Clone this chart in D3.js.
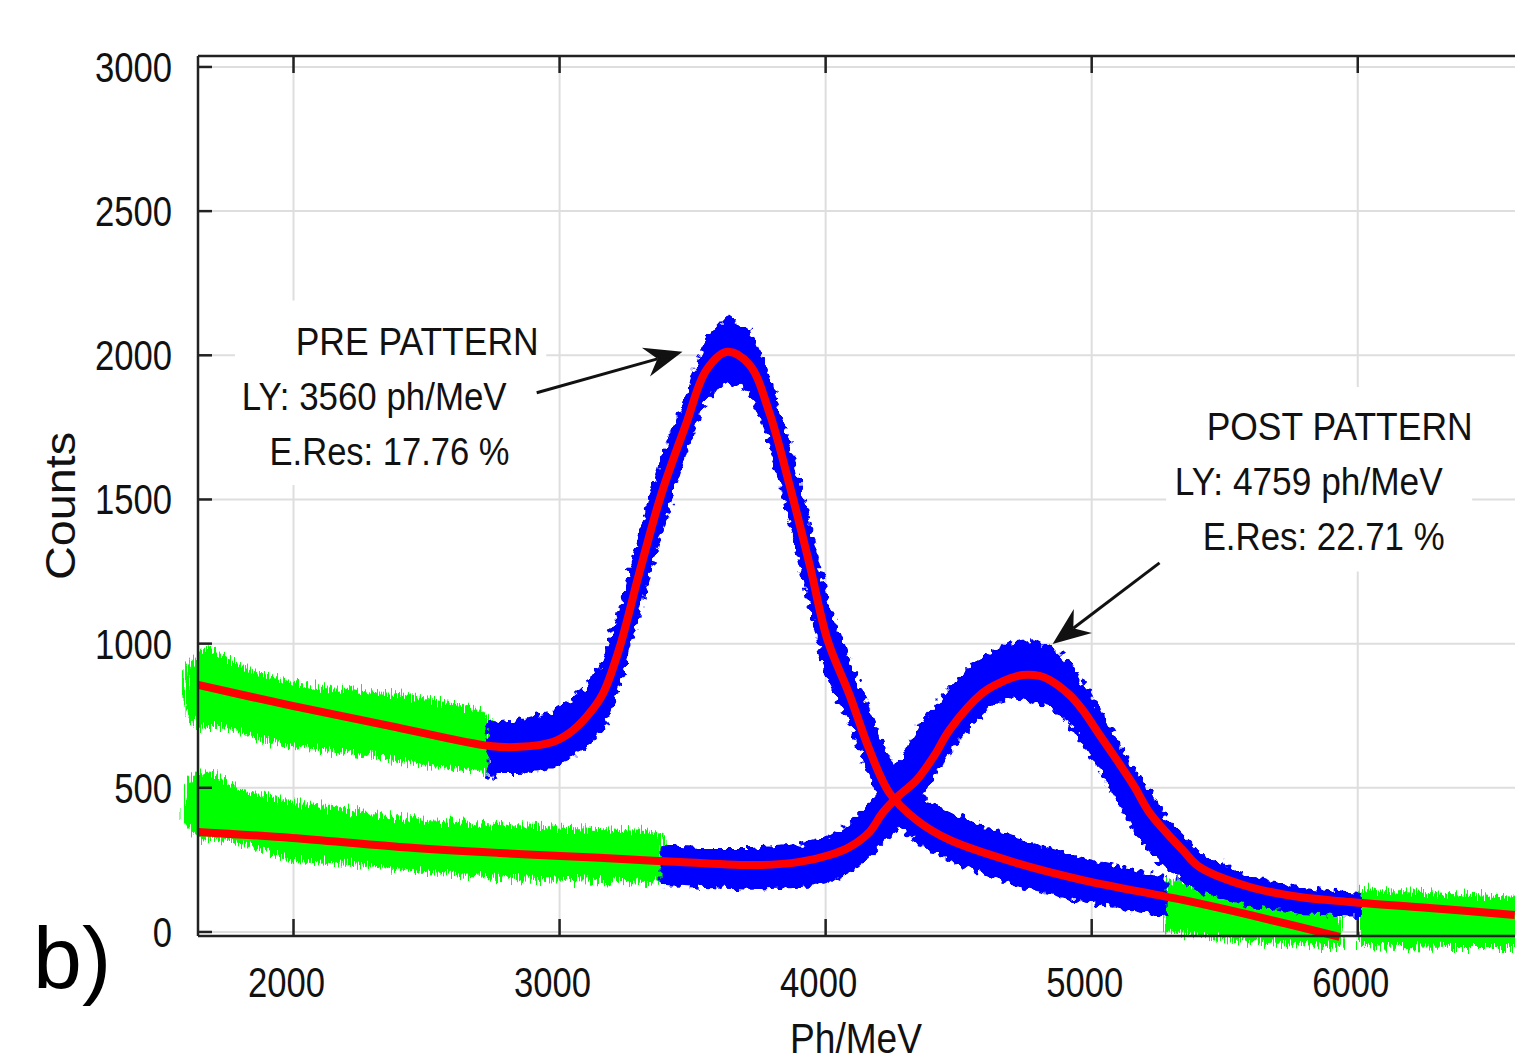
<!DOCTYPE html>
<html>
<head>
<meta charset="utf-8">
<script src="https://cdn.jsdelivr.net/npm/d3@7"></script>
<style>
  body { margin: 0; background: #fff; }
  text { font-family: "Liberation Sans", Arial, sans-serif; fill: #111; }
</style>
</head>
<body>
<div id="chart"></div>
<script>
// ---- values (Ph/MeV, counts) ----
var xTicks = [2000, 3000, 4000, 5000, 6000];
var yTicks = [0, 500, 1000, 1500, 2000, 2500, 3000];

// PRE pattern spectrum: green = outside fit range, blue = fitted range (low / high edge of the cloud)
var preGreenLX  = [1594, 1639, 1703, 1759, 1872, 1996, 2135, 2323, 2511, 2699, 2737];
var preGreenLHi = [902, 961, 978, 943, 891, 864, 839, 829, 805, 770, 728];
var preGreenLLo = [770, 711, 715, 708, 673, 649, 631, 607, 579, 562, 545];

var preBlueX  = [2737, 2774, 2850, 2974, 3037, 3101, 3162, 3225, 3301, 3383, 3477, 3552, 3631, 3714, 3789, 3864, 3940, 4007, 4090, 4165, 4240, 4342, 4466, 4718, 4966, 5274];
var preBlueHi = [728, 721, 728, 760, 794, 846, 930, 1100, 1370, 1630, 1850, 2050, 2130, 2080, 1910, 1680, 1400, 1130, 930, 752, 596, 475, 406, 319, 250, 187];
var preBlueLo = [534, 555, 555, 572, 607, 649, 710, 870, 1130, 1400, 1680, 1860, 1915, 1880, 1710, 1440, 1150, 890, 740, 545, 406, 319, 250, 163, 111, 59];

var preGreenRX  = [5274, 5406, 5594, 5782, 5932];
var preGreenRHi = [180, 163, 135, 111, 94];
var preGreenRLo = [7, -10, -28, -38, -49];

// POST pattern spectrum
var postGreenLX  = [1598, 1639, 1703, 1797, 1996, 2211, 2447, 2823, 3150, 3327, 3387];
var postGreenLHi = [510, 555, 545, 493, 447, 423, 388, 364, 354, 347, 336];
var postGreenLLo = [378, 330, 326, 312, 250, 239, 215, 191, 180, 173, 180];

var postBlueX  = [3387, 3526, 3714, 3902, 4015, 4090, 4165, 4240, 4316, 4391, 4466, 4541, 4616, 4691, 4767, 4842, 4917, 4992, 5067, 5143, 5218, 5293, 5406, 5594, 5782, 6008];
var postBlueHi = [291, 284, 284, 298, 326, 371, 441, 527, 649, 753, 839, 916, 961, 995, 1006, 985, 926, 822, 701, 579, 475, 371, 267, 187, 146, 128];
var postBlueLo = [166, 160, 153, 160, 180, 215, 267, 336, 423, 527, 631, 718, 787, 822, 805, 787, 735, 631, 510, 388, 284, 215, 146, 94, 69, 59];

var postGreenRX  = [6008, 6158, 6346, 6620];
var postGreenRHi = [146, 135, 128, 118];
var postGreenRLo = [-45, -49, -52, -52];

// fitted curves (red)
var preFitX = [1641, 1996, 2361, 2737, 2850, 2974, 3037, 3101, 3162, 3225, 3301, 3383, 3477, 3552, 3631, 3714, 3789, 3864, 3940, 4007, 4090, 4165, 4240, 4342, 4466, 4718, 4966, 5342, 5594, 5932];
var preFitY = [857, 784, 715, 645, 642, 659, 690, 746, 825, 985, 1250, 1520, 1766, 1949, 2012, 1967, 1800, 1551, 1273, 1013, 822, 631, 482, 388, 319, 239, 180, 111, 59, -17];

var postFitX = [1641, 1996, 2398, 2774, 3150, 3451, 3752, 3902, 4015, 4090, 4165, 4214, 4278, 4342, 4410, 4466, 4590, 4654, 4740, 4804, 4842, 4917, 4966, 5030, 5094, 5161, 5218, 5342, 5406, 5594, 5782, 5970, 6270, 6590];
var postFitY = [347, 326, 295, 274, 257, 243, 232, 243, 267, 295, 347, 413, 475, 527, 614, 701, 829, 864, 891, 888, 874, 822, 770, 683, 597, 503, 413, 284, 225, 156, 121, 104, 83, 59];

// annotations
var preLines  = ["PRE PATTERN", "LY: 3560 ph/MeV", "E.Res: 17.76 %"];
var postLines = ["POST PATTERN", "LY: 4759 ph/MeV", "E.Res: 22.71 %"];

// ---- layout ----
var w = 1515, h = 1064;
var plotL = 198, plotT = 56, plotB = 936, plotR = 1544;

var svg = d3.select("#chart").append("svg")
    .attr("width", w)
    .attr("height", h);

svg.append("rect").attr("width", w).attr("height", h).attr("fill", "#fff");

// rough edges for the histogram clouds (visual texture only)
var defs = svg.append("defs");
var fg = defs.append("filter").attr("id", "spiky")
    .attr("x", "-5%").attr("y", "-40%").attr("width", "110%").attr("height", "180%");
fg.append("feTurbulence").attr("type", "fractalNoise")
  .attr("baseFrequency", "0.7 0.03").attr("numOctaves", 1).attr("seed", 3).attr("result", "n");
fg.append("feDisplacementMap").attr("in", "SourceGraphic").attr("in2", "n")
  .attr("scale", 26).attr("xChannelSelector", "G").attr("yChannelSelector", "R");
var fb = defs.append("filter").attr("id", "dotty")
    .attr("x", "-5%").attr("y", "-20%").attr("width", "110%").attr("height", "140%");
fb.append("feTurbulence").attr("type", "fractalNoise")
  .attr("baseFrequency", "0.18").attr("numOctaves", 1).attr("seed", 7).attr("result", "n");
fb.append("feDisplacementMap").attr("in", "SourceGraphic").attr("in2", "n")
  .attr("scale", 14).attr("xChannelSelector", "G").attr("yChannelSelector", "R");

var x = d3.scaleLinear().domain([1641, 6700]).range([plotL, plotR]);
var y = d3.scaleLinear().domain([-14, 3038]).range([plotB, plotT]);

// grid
svg.append("g").selectAll("line").data(xTicks).enter().append("line")
    .attr("x1", function(d) { return x(d); })
    .attr("x2", function(d) { return x(d); })
    .attr("y1", plotT).attr("y2", plotB)
    .attr("stroke", "#dedede").attr("stroke-width", 2);
svg.append("g").selectAll("line").data(yTicks).enter().append("line")
    .attr("x1", plotL).attr("x2", plotR)
    .attr("y1", function(d) { return y(d); })
    .attr("y2", function(d) { return y(d); })
    .attr("stroke", "#dedede").attr("stroke-width", 2);

// annotation boxes hide the grid behind the text
function box(x0, y0, x1, y1) {
  svg.append("rect")
     .attr("x", x(x0)).attr("y", y(y0))
     .attr("width", x(x1) - x(x0)).attr("height", y(y1) - y(y0))
     .attr("fill", "#fff");
}
box(1780, 2190, 2950, 1550);
box(5280, 1890, 6430, 1250);

// data clouds
function band(xs, lo, hi, color, sw, filt) {
  var pts = xs.map(function(d, i) { return {x: d, lo: lo[i], hi: hi[i]}; });
  var area = d3.area()
      .x(function(d) { return x(d.x); })
      .y0(function(d) { return y(d.lo); })
      .y1(function(d) { return y(d.hi); });
  svg.append("path").datum(pts)
     .attr("d", area)
     .attr("fill", color)
     .attr("stroke", color)
     .attr("stroke-width", sw)
     .attr("stroke-linejoin", "round")
     .attr("filter", "url(#" + filt + ")");
}
band(preGreenLX, preGreenLLo, preGreenLHi, "#00ff00", 2, "spiky");
band(postGreenLX, postGreenLLo, postGreenLHi, "#00ff00", 2, "spiky");
band(preGreenRX, preGreenRLo, preGreenRHi, "#00ff00", 2, "spiky");
band(postGreenRX, postGreenRLo, postGreenRHi, "#00ff00", 2, "spiky");
band(preBlueX, preBlueLo, preBlueHi, "#0000ff", 4, "dotty");
band(postBlueX, postBlueLo, postBlueHi, "#0000ff", 4, "dotty");

// fits
var fitLine = d3.line()
    .x(function(d) { return x(d[0]); })
    .y(function(d) { return y(d[1]); })
    .curve(d3.curveCatmullRom.alpha(0.5));
svg.append("path").datum(d3.zip(preFitX, preFitY))
   .attr("d", fitLine).attr("fill", "none")
   .attr("stroke", "#ff0000").attr("stroke-width", 8);
svg.append("path").datum(d3.zip(postFitX, postFitY))
   .attr("d", fitLine).attr("fill", "none")
   .attr("stroke", "#ff0000").attr("stroke-width", 8);

// frame and inward ticks
var axisColor = "#222";
svg.append("line").attr("x1", plotL).attr("x2", plotR).attr("y1", plotB).attr("y2", plotB)
   .attr("stroke", axisColor).attr("stroke-width", 2.5);
svg.append("line").attr("x1", plotL).attr("x2", plotR).attr("y1", plotT).attr("y2", plotT)
   .attr("stroke", axisColor).attr("stroke-width", 2.5);
svg.append("line").attr("x1", plotL).attr("x2", plotL).attr("y1", plotT).attr("y2", plotB)
   .attr("stroke", axisColor).attr("stroke-width", 2.5);

xTicks.forEach(function(t) {
  svg.append("line").attr("x1", x(t)).attr("x2", x(t)).attr("y1", plotB).attr("y2", plotB - 17)
     .attr("stroke", axisColor).attr("stroke-width", 2.5);
  svg.append("line").attr("x1", x(t)).attr("x2", x(t)).attr("y1", plotT).attr("y2", plotT + 17)
     .attr("stroke", axisColor).attr("stroke-width", 2.5);
  svg.append("text")
     .attr("transform", "translate(" + (x(t) - 7) + "," + 997 + ") scale(0.825,1)")
     .attr("text-anchor", "middle")
     .style("font-size", "42px")
     .text(t);
});
yTicks.forEach(function(t) {
  svg.append("line").attr("x1", plotL).attr("x2", plotL + 14).attr("y1", y(t)).attr("y2", y(t))
     .attr("stroke", axisColor).attr("stroke-width", 2.5);
  svg.append("text")
     .attr("transform", "translate(" + 172 + "," + (y(t) + 15) + ") scale(0.825,1)")
     .attr("text-anchor", "end")
     .style("font-size", "42px")
     .text(t);
});

// axis titles
svg.append("text")
   .attr("x", 790).attr("y", 1053)
   .attr("textLength", 132).attr("lengthAdjust", "spacingAndGlyphs")
   .style("font-size", "43px")
   .text("Ph/MeV");
svg.append("text")
   .attr("transform", "translate(75,580) rotate(-90)")
   .attr("textLength", 148).attr("lengthAdjust", "spacingAndGlyphs")
   .style("font-size", "43px")
   .text("Counts");

// annotation texts
function label(str, xv, yv, len) {
  svg.append("text")
     .attr("x", x(xv)).attr("y", y(yv))
     .attr("textLength", len).attr("lengthAdjust", "spacingAndGlyphs")
     .style("font-size", "39px")
     .text(str);
}
label(preLines[0], 2008, 2001, 243);
label(preLines[1], 1805, 1811, 265);
label(preLines[2], 1910, 1620, 240);
label(postLines[0], 5432, 1707, 266);
label(postLines[1], 5312, 1516, 268);
label(postLines[2], 5417, 1325, 242);

// arrows
function arrow(x0v, y0v, x1v, y1v) {
  var x0 = x(x0v), y0 = y(y0v), x1 = x(x1v), y1 = y(y1v);
  var dx = x1 - x0, dy = y1 - y0, len = Math.sqrt(dx * dx + dy * dy);
  var ux = dx / len, uy = dy / len, nx = -uy, ny = ux;
  var hl = 38, hw = 15, notch = 26;
  svg.append("line")
     .attr("x1", x0).attr("y1", y0)
     .attr("x2", x1 - ux * notch).attr("y2", y1 - uy * notch)
     .attr("stroke", "#111").attr("stroke-width", 3);
  var pts = [
    [x1, y1],
    [x1 - ux * hl + nx * hw, y1 - uy * hl + ny * hw],
    [x1 - ux * notch, y1 - uy * notch],
    [x1 - ux * hl - nx * hw, y1 - uy * hl - ny * hw]
  ];
  svg.append("path").attr("d", "M" + pts.join("L") + "Z").attr("fill", "#111");
}
arrow(2914, 1870, 3462, 2012);
arrow(5255, 1280, 4853, 999);

// panel letter
svg.append("text")
   .attr("x", 33).attr("y", 988)
   .style("font-size", "88px")
   .style("fill", "#000")
   .text("b)");
</script>
</body>
</html>
